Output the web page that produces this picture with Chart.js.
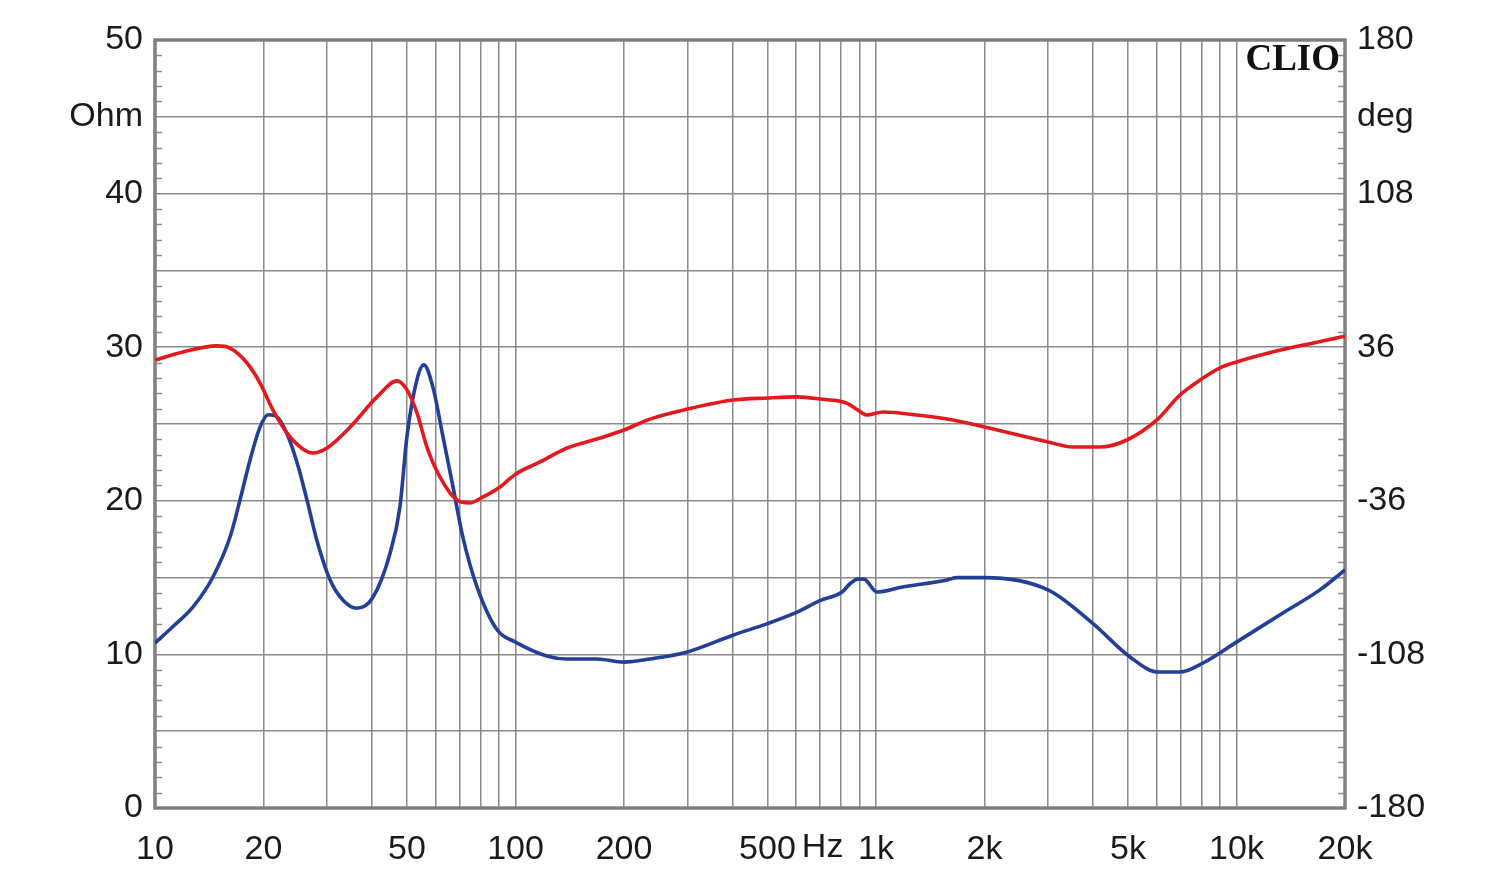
<!DOCTYPE html>
<html><head><meta charset="utf-8">
<script src="https://cdn.jsdelivr.net/npm/chart.js@4/dist/chart.umd.min.js"></script>
<style>html,body{margin:0;padding:0;background:#fff}#wrap{width:1500px;height:885px}</style>
</head><body><div id="wrap"><canvas id="c" width="1500" height="885"></canvas></div>
<script>
// Impedance magnitude (Ohm) – blue curve
const impFreq = [10,11.2,12.75,14.48,16.15,17.21,18.35,19.56,20.6,21.8,23.2,24.8,26.4,28.1,30.6,33.2,36.3,40.2,44.9,47.8,50,53.3,55.7,59,62.9,67.1,71.5,78.2,88.9,100,122,139,168,200,236,300,401,500,604,699,805,847,891,925,1006,1166,1574,1678,2000,3000,4000,5066,6056,6970,8075,10000,13450,17040,20000];
const impOhm  = [10.74,11.8,13.09,15.04,17.64,20.05,22.66,24.8,25.6,25.46,24.4,22.46,20.05,17.45,14.84,13.54,13.0,13.7,16.6,19.6,24.2,27.9,28.85,27.4,24.2,20.9,17.6,14.4,11.6,10.8,9.9,9.7,9.7,9.5,9.7,10.16,11.25,12.0,12.75,13.5,14.06,14.6,14.9,14.9,14.06,14.35,14.85,15.0,15.0,14.2,12.0,9.83,8.85,8.85,9.44,10.8,12.7,14.2,15.5];
// Phase (deg) – red curve
const phFreq = [10,11.96,14.86,16.15,18,19.56,21.25,23.7,27.4,30,34.8,41.3,46.9,50,53.3,56.8,61.7,68.8,74.8,81.3,90.6,100,117,139,171.6,200,236,300,401,500,604,699,830,891,944,1045,1300,1574,2000,3000,3518,4183,4968,6015,6970,7925,9000,10000,12200,15000,19800,20000];
const phDeg  = [30.0,33.8,36.6,35.6,28.6,19.2,6.5,-6.1,-13.6,-11.25,-1.4,12.7,20.2,16,5.2,-10.8,-24.8,-35.6,-37.0,-34.2,-29.5,-23.5,-17.8,-11.25,-6.6,-2.8,2.3,7.0,11.25,12.2,12.7,11.7,9.8,6.5,4.2,5.6,4.2,2.3,-1.4,-8.4,-10.8,-10.8,-7.5,1.9,13.6,20.6,26.3,29.1,33.2,36.7,41.0,41.2];
// Axis ticks
const xGridTicks = [10,20,30,40,50,60,70,80,90,100,200,300,400,500,600,700,800,900,1000,2000,3000,4000,5000,6000,7000,8000,9000,10000,20000];
const xLabels = {10:'10',20:'20',50:'50',100:'100',200:'200',500:'500',1000:'1k',2000:'2k',5000:'5k',10000:'10k',20000:'20k'};
const leftLabels = {0:'0',10:'10',20:'20',30:'30',40:'40',45:'Ohm',50:'50'};
const rightLabels = {'-180':'-180','-108':'-108','-36':'-36','36':'36','108':'108','144':'deg','180':'180'};

const FONT = 'Liberation Sans, Arial, sans-serif';
const FS = 34;
const GRID = '#8a8a8a';

const furniture = {
  id:'furniture',
  beforeDatasetsDraw(chart){
    const {ctx, chartArea:a, scales} = chart;
    ctx.save();
    ctx.strokeStyle = GRID; ctx.lineWidth = 1.5;
    for(let v=0; v<=50; v++){
      if(v%5===0) continue;
      const y = Math.round(scales.y.getPixelForValue(v))+0.5;
      ctx.beginPath(); ctx.moveTo(a.left, y); ctx.lineTo(a.left+7, y); ctx.stroke();
      ctx.beginPath(); ctx.moveTo(a.right-7, y); ctx.lineTo(a.right, y); ctx.stroke();
    }
    ctx.strokeStyle = '#7f7f7f'; ctx.lineWidth = 3.5;
    ctx.strokeRect(a.left, a.top, a.right-a.left, a.bottom-a.top);
    ctx.restore();
  },
  afterDraw(chart){
    const {ctx, chartArea:a, scales} = chart;
    ctx.save();
    ctx.font = FS + 'px ' + FONT; ctx.fillStyle = '#1a1a1a';
    ctx.textBaseline = 'middle'; ctx.textAlign = 'left';
    const x500 = scales.x.getPixelForValue(500);
    const w500 = ctx.measureText('500').width;
    ctx.fillText('Hz', x500 + w500/2 + 6, 848);
    ctx.font = 'bold 37px "Liberation Serif", "DejaVu Serif", serif';
    ctx.textAlign = 'right'; ctx.textBaseline = 'alphabetic'; ctx.fillStyle = '#111';
    ctx.fillText('CLIO', a.right-5, 70);
    ctx.restore();
  }
};

new Chart(document.getElementById('c'), {
  type:'line',
  data:{datasets:[
    {label:'Phase', data: phFreq.map((f,i)=>({x:f,y:phDeg[i]})), yAxisID:'y2',
     borderColor:'#e3191e', borderWidth:3.6, pointRadius:0, cubicInterpolationMode:'monotone', fill:false},
    {label:'Impedance', data: impFreq.map((f,i)=>({x:f,y:impOhm[i]})), yAxisID:'y',
     borderColor:'#233f96', borderWidth:3.6, pointRadius:0, cubicInterpolationMode:'monotone', fill:false}
  ]},
  options:{
    responsive:false, animation:false, devicePixelRatio:1,
    layout:{padding:{top:40,left:0,right:0,bottom:0}},
    plugins:{legend:{display:false}, tooltip:{enabled:false}},
    scales:{
      x:{type:'logarithmic', min:10, max:20000,
        afterBuildTicks(s){ s.ticks = xGridTicks.map(v=>({value:v})); },
        afterFit(s){ s.height = 77; },
        grid:{color:GRID, lineWidth:1.5, drawTicks:false},
        border:{display:false},
        ticks:{autoSkip:false, maxRotation:0, padding:21, color:'#1a1a1a', font:{size:FS, family:FONT},
          callback:(v)=> xLabels[v] || ''}
      },
      y:{type:'linear', position:'left', min:0, max:50,
        afterBuildTicks(s){ const t=[]; for(let v=0; v<=50; v+=5) t.push({value:v}); s.ticks=t; },
        afterFit(s){ s.width = 155; },
        grid:{color:GRID, lineWidth:1.5, drawTicks:false},
        border:{display:false},
        ticks:{padding:12, color:'#1a1a1a', font:{size:FS, family:FONT}, callback:(v)=> leftLabels[v] ?? ''}
      },
      y2:{type:'linear', position:'right', min:-180, max:180,
        afterBuildTicks(s){ const t=[]; for(let v=-180; v<=180; v+=36) t.push({value:v}); s.ticks=t; },
        afterFit(s){ s.width = 155; },
        grid:{display:false, drawTicks:false},
        border:{display:false},
        ticks:{padding:12, color:'#1a1a1a', font:{size:FS, family:FONT}, callback:(v)=> rightLabels[String(v)] ?? ''}
      }
    }
  },
  plugins:[furniture]
});
</script></body></html>
